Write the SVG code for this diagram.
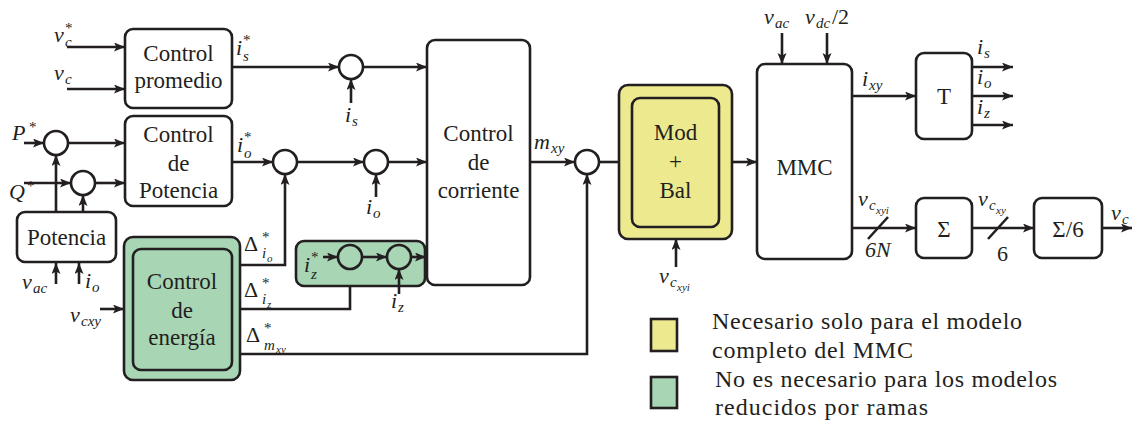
<svg xmlns="http://www.w3.org/2000/svg" width="1132" height="423" viewBox="0 0 1132 423" font-family="'Liberation Serif', 'DejaVu Serif', serif">
  <style>
    .box { fill: #ffffff; stroke: #231f20; stroke-width: 2.6; }
    .yel { fill: #ece98f; stroke: #231f20; stroke-width: 2.6; }
    .grn { fill: #a8d6b5; stroke: #231f20; stroke-width: 2.6; }
    .sum { fill: #ffffff; stroke: #231f20; stroke-width: 2.6; }
    .sumg { fill: #a8d6b5; stroke: #231f20; stroke-width: 2.6; }
    .w { fill: none; stroke: #231f20; stroke-width: 2.6; }
    .a { marker-end: url(#arr); }
    text { fill: #231f20; font-family: "Liberation Serif", "DejaVu Serif", serif; }
    .t { font-size: 23px; text-anchor: middle; }
    .lg { font-size: 24px; }
    .m { font-size: 22px; font-style: italic; }
    .s { font-size: 15px; font-style: italic; }
    .ss { font-size: 11px; font-style: italic; }
    .u { font-size: 15px; font-style: normal; }
    .r { font-size: 22px; font-style: normal; }
  </style>
  <defs>
    <marker id="arr" markerUnits="userSpaceOnUse" markerWidth="12" markerHeight="10" refX="11" refY="4.5" orient="auto">
      <path d="M0,0 L11,4.5 L0,9 L2.5,4.5 z" fill="#231f20"/>
    </marker>
  </defs>

  <!-- connectors -->
  <g id="connectors">
    <path class="w a" d="M67,47 H125"/>
    <path class="w a" d="M67,89 H125"/>
    <path class="w a" d="M232,67 H339"/>
    <path class="w a" d="M363,67 H427"/>
    <path class="w a" d="M351,103 V79"/>
    <path class="w a" d="M24,143 H44"/>
    <path class="w a" d="M68,143 H125"/>
    <path class="w a" d="M24,183 H71"/>
    <path class="w a" d="M95,183 H125"/>
    <path class="w a" d="M56,212 V155"/>
    <path class="w a" d="M83,212 V195"/>
    <path class="w a" d="M56,284 V263"/>
    <path class="w a" d="M79,284 V263"/>
    <path class="w a" d="M232,162 H273"/>
    <path class="w a" d="M297,162 H364"/>
    <path class="w a" d="M388,162 H427"/>
    <path class="w a" d="M376,197 V174"/>
    <path class="w a" d="M240,265 H285 V174"/>
    <path class="w a" d="M100,309 H124"/>
    <path class="w a" d="M240,309 H350 V269"/>
    <path class="w a" d="M240,354 H587 V174"/>
    <path class="w a" d="M530,162 H575"/>
    <path class="w" d="M599,162 H619"/>
    <path class="w a" d="M732,162 H757"/>
    <path class="w a" d="M676,267 V239"/>
    <path class="w a" d="M782,33 V64"/>
    <path class="w a" d="M827,33 V64"/>
    <path class="w a" d="M852,96 H916"/>
    <path class="w a" d="M972,67 H1013"/>
    <path class="w a" d="M972,96 H1013"/>
    <path class="w a" d="M972,125 H1013"/>
    <path class="w a" d="M852,228 H916"/>
    <path class="w" d="M868,239 L888,217"/>
    <path class="w a" d="M972,228 H1034"/>
    <path class="w" d="M988,239 L1008,217"/>
    <path class="w a" d="M1102,228 H1132"/>
  </g>

  <!-- control blocks -->
  <g id="control-promedio">
    <rect class="box" x="125" y="29" width="107" height="79" rx="8"/>
    <text class="t" x="178.5" y="61">Control</text>
    <text class="t" x="178.5" y="88">promedio</text>
  </g>
  <g id="control-potencia">
    <rect class="box" x="125" y="116" width="107" height="90" rx="8"/>
    <text class="t" x="178.5" y="142">Control</text>
    <text class="t" x="178.5" y="171">de</text>
    <text class="t" x="178.5" y="198">Potencia</text>
  </g>
  <g id="potencia">
    <rect class="box" x="17" y="212" width="99" height="50" rx="8"/>
    <text class="t" x="66.5" y="245">Potencia</text>
  </g>
  <g id="control-energia">
    <rect class="grn" x="124" y="237" width="116" height="143" rx="9"/>
    <rect class="grn" x="133" y="249" width="99" height="121" rx="8"/>
    <text class="t" x="182" y="289">Control</text>
    <text class="t" x="182" y="318">de</text>
    <text class="t" x="182" y="345">energía</text>
  </g>
  <g id="control-corriente">
    <rect class="box" x="427" y="40" width="103" height="245" rx="8"/>
    <text class="t" x="478.5" y="141">Control</text>
    <text class="t" x="478.5" y="170">de</text>
    <text class="t" x="478.5" y="198">corriente</text>
  </g>
  <g id="lazo-iz">
    <rect class="grn" x="296" y="241" width="129" height="45" rx="8"/>
    <path class="w a" d="M323,257 H338"/>
    <circle class="sumg" cx="350" cy="257" r="12"/>
    <path class="w a" d="M362,257 H387"/>
    <circle class="sumg" cx="399" cy="257" r="12"/>
    <path class="w a" d="M411,257 H426"/>
    <path class="w a" d="M399,294 V269"/>
  </g>
  <g id="mod-bal">
    <rect class="yel" x="619" y="85" width="113" height="154" rx="9"/>
    <rect class="yel" x="632" y="98" width="87" height="129" rx="8"/>
    <text class="t" x="675.5" y="140">Mod</text>
    <text class="t" x="675.5" y="169">+</text>
    <text class="t" x="675.5" y="198">Bal</text>
  </g>
  <g id="mmc">
    <rect class="box" x="757" y="64" width="95" height="195" rx="8"/>
    <text class="t" x="804.5" y="175">MMC</text>
  </g>
  <g id="bloque-t">
    <rect class="box" x="916" y="53" width="56" height="86" rx="8"/>
    <text class="t" x="944" y="104">T</text>
  </g>
  <g id="suma">
    <rect class="box" x="916" y="198" width="56" height="60" rx="8"/>
    <text class="t" x="944" y="237">Σ</text>
  </g>
  <g id="promedio-6">
    <rect class="box" x="1034" y="198" width="68" height="60" rx="8"/>
    <text class="t" x="1068" y="237">Σ/6</text>
  </g>

  <!-- summing junctions -->
  <g id="sumadores">
    <circle class="sum" cx="351" cy="67" r="12"/>
    <circle class="sum" cx="56" cy="143" r="12"/>
    <circle class="sum" cx="83" cy="183" r="12"/>
    <circle class="sum" cx="285" cy="162" r="12"/>
    <circle class="sum" cx="376" cy="162" r="12"/>
    <circle class="sum" cx="587" cy="162" r="12"/>
  </g>

  <!-- signal labels -->
  <g id="etiquetas">
    <text class="m" x="54" y="42">v<tspan class="u" x="65" y="33">*</tspan><tspan class="s" x="65" y="47">c</tspan></text>
    <text class="m" x="54" y="80">v<tspan class="s" x="65" y="84">c</tspan></text>
    <text class="m" x="236" y="55">i<tspan class="u" x="243" y="45">*</tspan><tspan class="s" x="243" y="61">s</tspan></text>
    <text class="m" x="12" y="140">P<tspan class="u" x="29" y="132">*</tspan></text>
    <text class="m" x="9" y="199">Q<tspan class="u" x="27" y="191">*</tspan></text>
    <text class="m" x="237" y="152">i<tspan class="u" x="244" y="142">*</tspan><tspan class="s" x="244" y="158">o</tspan></text>
    <text class="m" x="345" y="122">i<tspan class="s" x="352" y="126">s</tspan></text>
    <text class="m" x="366" y="214">i<tspan class="s" x="373" y="218">o</tspan></text>
    <text class="m" x="22" y="289">v<tspan class="s" x="33" y="293">ac</tspan></text>
    <text class="m" x="85" y="288">i<tspan class="s" x="92" y="292">o</tspan></text>
    <text class="m" x="70" y="322">v<tspan class="s" x="81" y="326">cxy</tspan></text>
    <text class="r" x="244" y="251">Δ<tspan class="u" x="262" y="242">*</tspan><tspan class="s" x="262" y="258">i</tspan><tspan class="ss" x="267" y="262">o</tspan></text>
    <text class="r" x="244" y="297">Δ<tspan class="u" x="262" y="288">*</tspan><tspan class="s" x="262" y="304">i</tspan><tspan class="ss" x="267" y="308">z</tspan></text>
    <text class="r" x="246" y="342">Δ<tspan class="u" x="264" y="333">*</tspan><tspan class="s" x="264" y="350">m</tspan><tspan class="ss" x="276" y="353">xy</tspan></text>
    <text class="m" x="304" y="272">i<tspan class="u" x="311" y="262">*</tspan><tspan class="s" x="311" y="279">z</tspan></text>
    <text class="m" x="391" y="308">i<tspan class="s" x="398" y="312">z</tspan></text>
    <text class="m" x="534" y="149">m<tspan class="s" x="551" y="153">xy</tspan></text>
    <text class="m" x="764" y="24">v<tspan class="s" x="775" y="28">ac</tspan></text>
    <text class="m" x="805" y="24">v<tspan class="s" x="816" y="28">dc</tspan><tspan class="r" x="832" y="24">/2</tspan></text>
    <text class="m" x="659" y="283">v<tspan class="s" x="670" y="287">c</tspan><tspan class="ss" x="677" y="291">xyi</tspan></text>
    <text class="m" x="862" y="86">i<tspan class="s" x="869" y="90">xy</tspan></text>
    <text class="m" x="858" y="206">v<tspan class="s" x="869" y="210">c</tspan><tspan class="ss" x="876" y="214">xyi</tspan></text>
    <text class="m" x="865" y="257">6<tspan x="876">N</tspan></text>
    <text class="m" x="977" y="54">i<tspan class="s" x="984" y="58">s</tspan></text>
    <text class="m" x="977" y="84">i<tspan class="s" x="984" y="88">o</tspan></text>
    <text class="m" x="977" y="114">i<tspan class="s" x="984" y="118">z</tspan></text>
    <text class="m" x="978" y="206">v<tspan class="s" x="989" y="210">c</tspan><tspan class="ss" x="996" y="214">xy</tspan></text>
    <text class="r" x="997" y="261">6</text>
    <text class="m" x="1111" y="220">v<tspan class="s" x="1122" y="224">c</tspan></text>
  </g>

  <!-- legend -->
  <g id="leyenda">
    <rect class="yel" x="651" y="319" width="26" height="32"/>
    <text class="lg" x="712" y="329" textLength="310" lengthAdjust="spacing">Necesario solo para el modelo</text>
    <text class="lg" x="712" y="358" textLength="201" lengthAdjust="spacing">completo del MMC</text>
    <rect class="grn" x="651" y="377" width="26" height="31"/>
    <text class="lg" x="715" y="387" textLength="342" lengthAdjust="spacing">No es necesario para los modelos</text>
    <text class="lg" x="715" y="415" textLength="213" lengthAdjust="spacing">reducidos por ramas</text>
  </g>
</svg>
